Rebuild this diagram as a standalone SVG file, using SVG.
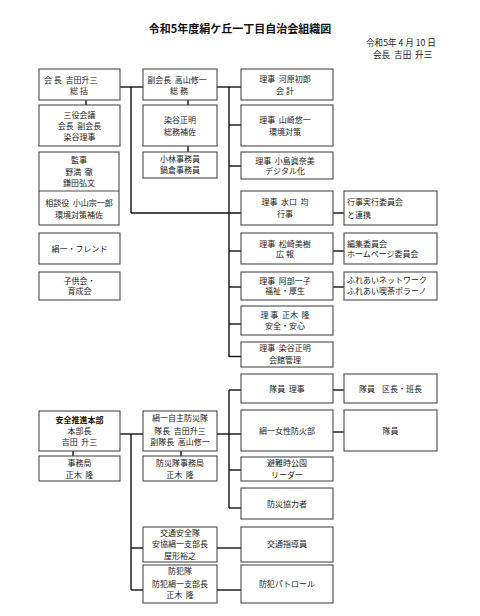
<svg xmlns="http://www.w3.org/2000/svg" width="480" height="616" viewBox="0 0 480 616">
<style>
text{font-family:"Noto Sans CJK JP","Noto Sans",sans-serif;font-size:8px;fill:#222;white-space:pre;}
.c{text-anchor:middle;}
.title{font-size:11px;font-weight:bold;fill:#111;}
.b{font-weight:bold;fill:#111;}
.d{font-size:8.6px;}
rect{fill:#fff;stroke:#4a4a4a;stroke-width:1.1;}
#connectors line{stroke:#111;stroke-width:1.4;}
</style>
<rect x="0" y="0" width="480" height="616" style="stroke:none;fill:#fff"/>
<text class="title c" x="240" y="33">令和5年度絹ケ丘一丁目自治会組織図</text>
<text class="d" x="366" y="46">令和5年 4 月 10 日</text>
<text class="d" x="373" y="58">会長  吉田  升三</text>

<g id="connectors">
<line x1="86" y1="100" x2="86" y2="105"/>
<line x1="188" y1="100" x2="188" y2="105"/>
<line x1="188" y1="146" x2="188" y2="152"/>
<line x1="120" y1="87" x2="143" y2="87"/>
<line x1="131" y1="87" x2="131" y2="213"/>
<line x1="131" y1="213" x2="241" y2="213"/>
<line x1="217" y1="87" x2="241" y2="87"/>
<line x1="229" y1="87" x2="229" y2="357"/>
<line x1="229" y1="125" x2="241" y2="125"/>
<line x1="229" y1="166" x2="241" y2="166"/>
<line x1="229" y1="251" x2="241" y2="251"/>
<line x1="229" y1="287" x2="241" y2="287"/>
<line x1="229" y1="324" x2="241" y2="324"/>
<line x1="229" y1="356.5" x2="241" y2="356.5"/>
<line x1="333" y1="213" x2="344" y2="213"/>
<line x1="333" y1="251" x2="344" y2="251"/>
<line x1="333" y1="287" x2="344" y2="287"/>
<line x1="73" y1="451" x2="73" y2="456"/>
<line x1="120" y1="434" x2="143" y2="434"/>
<line x1="131" y1="434" x2="131" y2="590"/>
<line x1="131" y1="548" x2="143" y2="548"/>
<line x1="131" y1="590" x2="143" y2="590"/>
<line x1="181" y1="451" x2="181" y2="456"/>
<line x1="217" y1="434" x2="241" y2="434"/>
<line x1="229" y1="390" x2="229" y2="508"/>
<line x1="229" y1="390" x2="241" y2="390"/>
<line x1="229" y1="470" x2="241" y2="470"/>
<line x1="229" y1="508" x2="241" y2="508"/>
<line x1="217" y1="548" x2="241" y2="548"/>
<line x1="217" y1="590" x2="241" y2="590"/>
<line x1="333" y1="390" x2="344" y2="390"/>
<line x1="333" y1="432" x2="344" y2="432"/>
</g>

<g id="kaicho"><rect x="39" y="69" width="81" height="31"/>
<text x="44" y="83">会 長  吉田升三</text><text class="c" x="79" y="94">総 括</text></g>
<g id="sanyaku"><rect x="39" y="105" width="81" height="41"/>
<text class="c" x="79.5" y="118">三役会議</text><text class="c" x="79.5" y="129">会長  副会長</text><text class="c" x="79.5" y="140">染谷理事</text></g>
<g id="kanji"><rect x="39" y="152" width="80" height="73"/>
<line x1="39" y1="191" x2="119" y2="191" style="stroke:#4a4a4a;stroke-width:1.1"/>
<text class="c" x="79" y="163">監事</text><text class="c" x="79" y="175">野満  徹</text><text class="c" x="79" y="186">鎌田弘文</text>
<text class="c" x="79" y="206">相談役  小山宗一郎</text><text class="c" x="79" y="218">環境対策補佐</text></g>
<g id="friend"><rect x="39" y="233" width="81" height="31"/>
<text class="c" x="79.5" y="252">絹一・フレンド</text></g>
<g id="kodomo"><rect x="39" y="272" width="81" height="28"/>
<text class="c" x="79.5" y="284">子供会・</text><text class="c" x="79.5" y="294">育成会</text></g>

<g id="fukukaicho"><rect x="143" y="69" width="74" height="31"/>
<text class="c" x="177" y="83">副会長  高山修一</text><text class="c" x="179" y="94">総 務</text></g>
<g id="somuhosa"><rect x="143" y="105" width="74" height="41"/>
<text class="c" x="180" y="123">染谷正明</text><text class="c" x="180" y="135">総務補佐</text></g>
<g id="jimuin"><rect x="143" y="152" width="74" height="26"/>
<text class="c" x="180" y="162">小林事務員</text><text class="c" x="180" y="173">鍋倉事務員</text></g>

<g id="kaikei"><rect x="241" y="69" width="92" height="31"/>
<text class="c" x="285" y="82">理事  河原初郎</text><text class="c" x="285" y="94">会 計</text></g>
<g id="kankyo"><rect x="241" y="105" width="92" height="41"/>
<text class="c" x="285" y="123">理事  山崎悠一</text><text class="c" x="285" y="135">環境対策</text></g>
<g id="digital"><rect x="241" y="152" width="92" height="27"/>
<text class="c" x="285" y="164">理事  小島眞奈美</text><text class="c" x="285" y="174">デジタル化</text></g>
<g id="gyoji"><rect x="241" y="191" width="92" height="34"/>
<text class="c" x="285" y="205">理事  水口  均</text><text class="c" x="285" y="217">行事</text></g>
<g id="koho"><rect x="241" y="233" width="92" height="31"/>
<text class="c" x="285" y="247">理事  松崎美樹</text><text class="c" x="285" y="257">広 報</text></g>
<g id="fukushi"><rect x="241" y="272" width="92" height="28"/>
<text class="c" x="285" y="284">理事  阿部一子</text><text class="c" x="285" y="294">福祉・厚生</text></g>
<g id="anzen"><rect x="241" y="306" width="92" height="29"/>
<text class="c" x="285" y="318">理 事  正木  隆</text><text class="c" x="285" y="329">安全・安心</text></g>
<g id="kaikan"><rect x="241" y="342" width="92" height="25"/>
<text class="c" x="285" y="351">理事  染谷正明</text><text class="c" x="285" y="363">会館管理</text></g>

<g id="jikko"><rect x="344" y="191" width="93" height="34"/>
<text x="347" y="205">行事実行委員会</text><text x="347" y="218">と連携</text></g>
<g id="henshu"><rect x="344" y="233" width="93" height="31"/>
<text x="347" y="247">編集委員会</text><text x="347" y="257">ホームページ委員会</text></g>
<g id="fureai"><rect x="344" y="272" width="93" height="28"/>
<text x="347" y="283">ふれあいネットワーク</text><text x="347" y="294">ふれあい喫茶ポラーノ</text></g>

<g id="honbu"><rect x="39" y="411" width="81" height="40"/>
<text class="c b" x="79.5" y="423">安全推進本部</text><text class="c" x="79.5" y="434">本部長</text><text class="c" x="79.5" y="445">吉田  升三</text></g>
<g id="jimukyoku"><rect x="39" y="456" width="81" height="25"/>
<text class="c" x="79.5" y="466">事務局</text><text class="c" x="79.5" y="478">正木  隆</text></g>

<g id="bosaitai"><rect x="143" y="411" width="74" height="40"/>
<text class="c" x="180" y="421">絹一自主防災隊</text><text class="c" x="180" y="434">隊長  吉田升三</text><text class="c" x="180" y="445">副隊長  高山修一</text></g>
<g id="bosaijimu"><rect x="143" y="456" width="74" height="25"/>
<text class="c" x="180" y="466">防災隊事務局</text><text class="c" x="180" y="478">正木  隆</text></g>
<g id="kotsu"><rect x="143" y="527" width="74" height="35"/>
<text class="c" x="180" y="536">交通安全隊</text><text class="c" x="180" y="547">安協絹一支部長</text><text class="c" x="180" y="559">屋形裕之</text></g>
<g id="bohan"><rect x="143" y="565" width="74" height="38"/>
<text class="c" x="180" y="574">防犯隊</text><text class="c" x="180" y="587">防犯絹一支部長</text><text class="c" x="180" y="598">正木  隆</text></g>

<g id="taiin-riji"><rect x="241" y="374" width="92" height="29"/>
<text class="c" x="287" y="392">隊員  理事</text></g>
<g id="josei"><rect x="241" y="410" width="92" height="41"/>
<text class="c" x="287" y="434">絹一女性防火部</text></g>
<g id="leader"><rect x="241" y="457" width="92" height="24"/>
<text class="c" x="287" y="466">避難時公園</text><text class="c" x="287" y="478">リーダー</text></g>
<g id="kyoryoku"><rect x="241" y="488" width="92" height="31"/>
<text class="c" x="287" y="507">防災協力者</text></g>
<g id="shido"><rect x="241" y="527" width="92" height="35"/>
<text class="c" x="287" y="547">交通指導員</text></g>
<g id="patrol"><rect x="241" y="565" width="92" height="38"/>
<text class="c" x="287" y="587">防犯パトロール</text></g>

<g id="kucho"><rect x="344" y="374" width="93" height="29"/>
<text class="c" x="390.5" y="392">隊員    区長・班長</text></g>
<g id="taiin"><rect x="344" y="410" width="93" height="41"/>
<text class="c" x="390.5" y="434">隊員</text></g>
</svg>
